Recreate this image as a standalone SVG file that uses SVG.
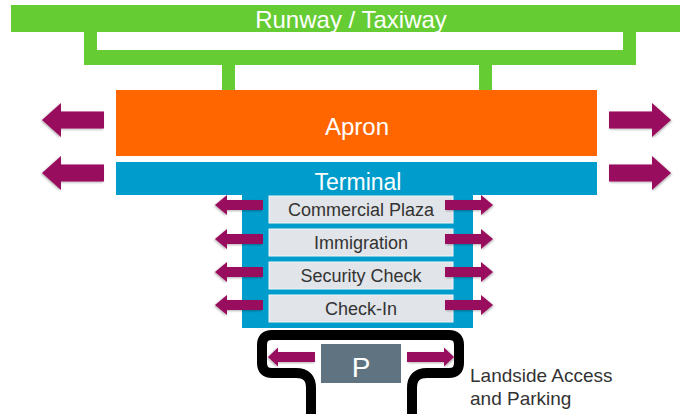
<svg xmlns="http://www.w3.org/2000/svg" width="680" height="414" viewBox="0 0 680 414">
<style>
.green{fill:#66cc33}
.lbl{font-family:"Liberation Sans",Arial,sans-serif;text-anchor:middle}
.w{fill:#ffffff}
.d{fill:#333333}
.box{fill:#e1e4e8;stroke:#f4f5f7;stroke-width:1}
.arr{fill:#990a5e;filter:url(#sh)}
</style>
<defs>
<filter id="sh" x="-20%" y="-30%" width="140%" height="160%">
<feDropShadow dx="1" dy="1" stdDeviation="1" flood-color="#000" flood-opacity="0.3"/>
</filter>
<path id="bigArrow" d="M0,-8.5 H43 V-17 L62,0 L43,17 V8.5 H0 Z"/>
<path id="midArrow" d="M0,-5 H36 V-10 L48,0 L36,10 V5 H0 Z"/>
<path id="smallArrow" d="M0,-5 H37 V-9.5 L47,0 L37,9.5 V5 H0 Z"/>
</defs>

<g id="runway">
<rect class="green" x="11" y="5" width="669" height="27"/>
<path class="green" d="M84,32 H97 V50 H623 V32 H636 V65 H84 Z"/>
<rect class="green" x="222" y="64" width="13" height="27"/>
<rect class="green" x="479" y="64" width="13" height="27"/>
<text class="lbl w" x="351" y="28" font-size="24">Runway / Taxiway</text>
</g>

<g id="apron">
<rect x="116" y="90" width="481" height="66" fill="#ff6600"/>
<text class="lbl w" x="357" y="135" font-size="24">Apron</text>
</g>

<g id="terminal">
<rect x="116" y="162" width="481" height="33" fill="#009ccc"/>
<rect x="242" y="194" width="231" height="134" fill="#009ccc"/>
<text class="lbl w" x="358" y="190" font-size="23">Terminal</text>
</g>

<g id="commercial-plaza">
<rect class="box" x="269" y="196" width="184" height="27"/>
<text class="lbl d" x="361" y="216" font-size="18">Commercial Plaza</text>
</g>
<g id="immigration">
<rect class="box" x="269" y="229" width="184" height="27"/>
<text class="lbl d" x="361" y="249" font-size="18">Immigration</text>
</g>
<g id="security-check">
<rect class="box" x="269" y="262" width="184" height="27"/>
<text class="lbl d" x="361" y="282" font-size="18">Security Check</text>
</g>
<g id="check-in">
<rect class="box" x="269" y="295" width="184" height="27"/>
<text class="lbl d" x="361" y="315" font-size="18">Check-In</text>
</g>

<g id="landside">
<path d="M311,414 V388 Q311,373 296,373 H272 Q262,373 262,363 V345 Q262,335 272,335 H449 Q459,335 459,345 V363 Q459,373 449,373 H427 Q412,373 412,388 V414" fill="none" stroke="#000" stroke-width="10"/>
<text x="470" y="382" font-family="'Liberation Sans',Arial,sans-serif" font-size="19" fill="#333333">Landside Access</text>
<text x="470" y="405" font-family="'Liberation Sans',Arial,sans-serif" font-size="19" fill="#333333">and Parking</text>
</g>

<g id="parking">
<rect x="321" y="344" width="80" height="39" fill="#5f7480"/>
<text class="lbl w" x="361" y="377" font-size="28">P</text>
</g>

<g id="connectors">
<use href="#bigArrow" class="arr" transform="translate(104,120) scale(-1,1)"/>
<use href="#bigArrow" class="arr" transform="translate(609,120)"/>
<use href="#bigArrow" class="arr" transform="translate(104,173) scale(-1,1)"/>
<use href="#bigArrow" class="arr" transform="translate(609,173)"/>
<use href="#midArrow" class="arr" transform="translate(263,205) scale(-1,1)"/>
<use href="#midArrow" class="arr" transform="translate(445,205)"/>
<use href="#midArrow" class="arr" transform="translate(263,239) scale(-1,1)"/>
<use href="#midArrow" class="arr" transform="translate(445,239)"/>
<use href="#midArrow" class="arr" transform="translate(263,272) scale(-1,1)"/>
<use href="#midArrow" class="arr" transform="translate(445,272)"/>
<use href="#midArrow" class="arr" transform="translate(263,305) scale(-1,1)"/>
<use href="#midArrow" class="arr" transform="translate(445,305)"/>
<use href="#smallArrow" class="arr" transform="translate(315,357) scale(-1,1)"/>
<use href="#smallArrow" class="arr" transform="translate(407,357)"/>
</g>
</svg>
